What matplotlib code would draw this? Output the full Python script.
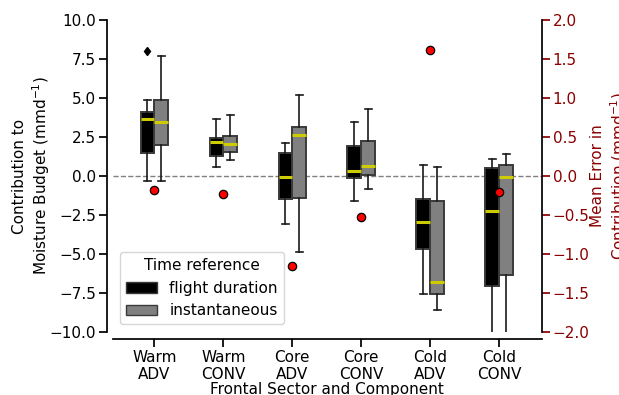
import numpy as np
import matplotlib.pyplot as plt
from matplotlib.patches import Patch

categories = ["Warm\nADV", "Warm\nCONV", "Core\nADV", "Core\nCONV", "Cold\nADV", "Cold\nCONV"]

# flight duration boxes (mm/d)
fd_med = [3.63, 2.16, -0.06, 0.32, -2.97, -2.26]
fd_q1 = [1.49, 1.26, -1.47, -0.15, -4.70, -7.05]
fd_q3 = [4.08, 2.46, 1.49, 1.90, -1.45, 0.49]
fd_lo = [-0.32, 0.60, -3.10, -1.58, -7.56, -11.0]
fd_hi = [4.85, 3.63, 2.12, 3.48, 0.69, 1.11]
fd_fliers = [[8.0], [], [], [], [], []]

# instantaneous boxes (mm/d)
in_med = [3.44, 2.03, 2.63, 0.62, -6.81, -0.04]
in_q1 = [1.99, 1.52, -1.43, 0.06, -7.58, -6.33]
in_q3 = [4.87, 2.54, 3.16, 2.24, -1.62, 0.69]
in_lo = [-0.32, 1.01, -4.87, -0.81, -8.57, -11.0]
in_hi = [7.71, 3.93, 5.21, 4.31, 0.58, 1.39]
in_fliers = [[], [], [], [], [], []]

# mean error (right axis)
mean_err = [-0.18, -0.226, -1.15, -0.53, 1.61, -0.21]

plt.rcParams['font.family'] = 'DejaVu Sans'
plt.rcParams['xtick.labelsize'] = 11
plt.rcParams['ytick.labelsize'] = 11


def make_stats(med, q1, q3, lo, hi, fl):
    return [dict(med=m, q1=a, q3=b, whislo=l, whishi=h, fliers=f)
            for m, a, b, l, h, f in zip(med, q1, q3, lo, hi, fl)]


fig = plt.figure(figsize=(6.19, 3.95), dpi=100)
ax = fig.add_axes([0.182, 0.1595, 0.693, 0.79])

x = np.arange(len(categories))
edge = '#3a3a3a'
for stats, off, fc in [(make_stats(fd_med, fd_q1, fd_q3, fd_lo, fd_hi, fd_fliers), -0.1, 'black'),
                       (make_stats(in_med, in_q1, in_q3, in_lo, in_hi, in_fliers), 0.1, 'grey')]:
    ax.bxp(stats, positions=x + off, widths=0.2, patch_artist=True, manage_ticks=False,
           boxprops=dict(facecolor=fc, edgecolor=edge, linewidth=1.4),
           medianprops=dict(color='#cccc00', linewidth=2.2),
           whiskerprops=dict(color='#1a1a1a', linewidth=1.2),
           capprops=dict(color='#1a1a1a', linewidth=1.2),
           flierprops=dict(marker='d', markersize=4.5, markerfacecolor='black',
                           markeredgecolor='black'))

ax.axhline(0, color='grey', ls='--', lw=1, zorder=0)
ax.set_xlim(-0.604, 5.614)
ax.set_ylim(-10, 10)
ax.set_yticks(np.arange(-10, 10.1, 2.5))
ax.set_xticks(x)
ax.set_xticklabels(categories, linespacing=1.1)
ax.set_xlabel("Frontal Sector and Component", fontsize=11, labelpad=0)
ax.set_ylabel("Contribution to\nMoisture Budget (mmd$^{-1}$)", fontsize=11, labelpad=-1.5)
for s in ['top', 'right']:
    ax.spines[s].set_visible(False)
ax.spines['left'].set_position(('outward', 4))
ax.spines['bottom'].set_position(('outward', 5))
for s in ax.spines.values():
    s.set_linewidth(1.25)
ax.tick_params(width=1.25, length=6, pad=2)

legend_handles = [Patch(facecolor='black', edgecolor=edge, label='flight duration'),
                  Patch(facecolor='grey', edgecolor=edge, label='instantaneous')]
ax.legend(handles=legend_handles, title='Time reference', loc='lower left',
          fontsize=11, title_fontsize=11)

ax2 = ax.twinx()
ax2.plot(x, mean_err, 'o', color='red', markeredgecolor='black', markeredgewidth=0.9,
         markersize=6)
ax2.set_ylim(-2, 2)
ax2.set_yticks(np.arange(-2, 2.01, 0.5))
for s in ['top', 'left', 'bottom']:
    ax2.spines[s].set_visible(False)
ax2.spines['right'].set_linewidth(1.25)
ax2.tick_params(axis='y', colors='darkred', width=1.25, length=6, pad=2)
ax2.set_ylabel("Mean Error in\nContribution (mmd$^{-1}$)", color='darkred', fontsize=11,
               labelpad=0.5)

fig.savefig('out.png', dpi=100)
